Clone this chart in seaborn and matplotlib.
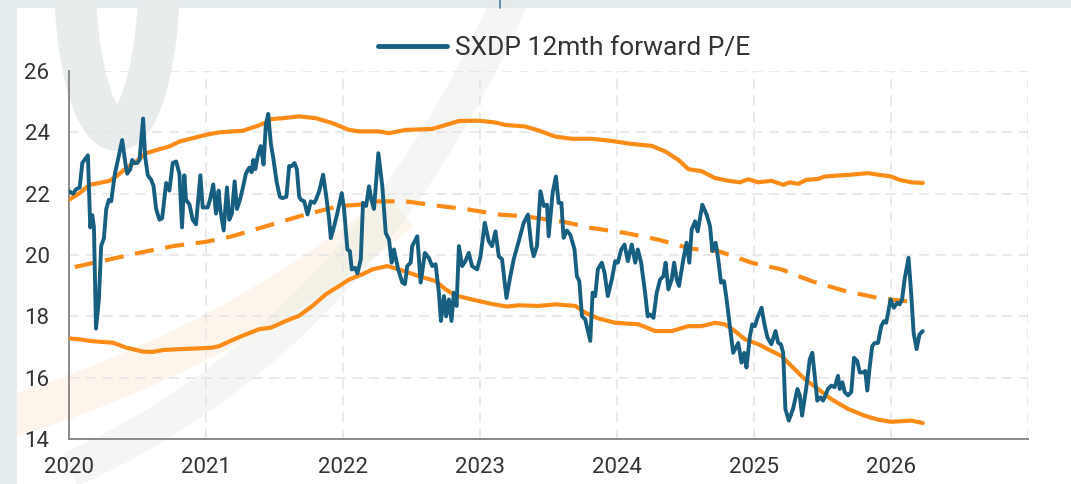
import numpy as np
import pandas as pd
import matplotlib
matplotlib.use("Agg")
import matplotlib.pyplot as plt
import seaborn as sns
from matplotlib.patches import Rectangle, PathPatch, Ellipse
from matplotlib.path import Path
from matplotlib.lines import Line2D

# ---- data (decimal years) ----
pe_dates = [
    2020.000, 2020.029, 2020.053, 2020.078, 2020.097, 2020.138, 2020.155, 2020.170, 2020.182, 2020.197,
    2020.218, 2020.235, 2020.255, 2020.272, 2020.291, 2020.308, 2020.333, 2020.357, 2020.388, 2020.413,
    2020.425, 2020.447, 2020.461, 2020.478, 2020.498, 2020.515, 2020.527, 2020.541, 2020.556, 2020.575,
    2020.600, 2020.617, 2020.636, 2020.660, 2020.680, 2020.709, 2020.733, 2020.757, 2020.782, 2020.806,
    2020.825, 2020.842, 2020.854, 2020.879, 2020.903, 2020.927, 2020.959, 2020.976, 2021.012, 2021.029,
    2021.053, 2021.073, 2021.092, 2021.104, 2021.129, 2021.153, 2021.170, 2021.189, 2021.209, 2021.226,
    2021.248, 2021.267, 2021.291, 2021.316, 2021.333, 2021.345, 2021.360, 2021.376, 2021.388, 2021.400,
    2021.420, 2021.437, 2021.454, 2021.473, 2021.493, 2021.515, 2021.539, 2021.558, 2021.587, 2021.607,
    2021.626, 2021.646, 2021.663, 2021.680, 2021.693, 2021.717, 2021.741, 2021.765, 2021.790, 2021.802,
    2021.826, 2021.855, 2021.875, 2021.899, 2021.911, 2021.935, 2021.959, 2021.991, 2022.008, 2022.032,
    2022.050, 2022.064, 2022.088, 2022.105, 2022.130, 2022.146, 2022.169, 2022.190, 2022.207, 2022.226,
    2022.258, 2022.287, 2022.312, 2022.336, 2022.355, 2022.372, 2022.403, 2022.433, 2022.452, 2022.469,
    2022.494, 2022.505, 2022.542, 2022.567, 2022.598, 2022.627, 2022.651, 2022.676, 2022.700, 2022.715,
    2022.737, 2022.753, 2022.773, 2022.792, 2022.809, 2022.829, 2022.846, 2022.870, 2022.894, 2022.918,
    2022.942, 2022.979, 2023.004, 2023.035, 2023.064, 2023.088, 2023.113, 2023.137, 2023.161, 2023.193,
    2023.222, 2023.246, 2023.283, 2023.319, 2023.350, 2023.375, 2023.392, 2023.416, 2023.441, 2023.465,
    2023.489, 2023.501, 2023.530, 2023.554, 2023.574, 2023.594, 2023.610, 2023.634, 2023.659, 2023.690,
    2023.707, 2023.725, 2023.744, 2023.768, 2023.805, 2023.822, 2023.841, 2023.860, 2023.889, 2023.909,
    2023.933, 2023.962, 2023.987, 2024.006, 2024.031, 2024.055, 2024.079, 2024.108, 2024.133, 2024.152,
    2024.176, 2024.205, 2024.224, 2024.242, 2024.266, 2024.290, 2024.315, 2024.339, 2024.355, 2024.375,
    2024.399, 2024.417, 2024.436, 2024.453, 2024.484, 2024.508, 2024.528, 2024.545, 2024.570, 2024.589,
    2024.623, 2024.654, 2024.679, 2024.696, 2024.720, 2024.739, 2024.759, 2024.781, 2024.800, 2024.824,
    2024.848, 2024.885, 2024.909, 2024.929, 2024.945, 2024.970, 2024.987, 2025.007, 2025.025, 2025.055,
    2025.074, 2025.098, 2025.127, 2025.157, 2025.176, 2025.196, 2025.213, 2025.229, 2025.254, 2025.285,
    2025.317, 2025.334, 2025.351, 2025.382, 2025.407, 2025.426, 2025.443, 2025.462, 2025.487, 2025.504,
    2025.521, 2025.540, 2025.564, 2025.589, 2025.613, 2025.626, 2025.645, 2025.662, 2025.686, 2025.710,
    2025.730, 2025.754, 2025.772, 2025.796, 2025.812, 2025.827, 2025.844, 2025.863, 2025.881, 2025.905,
    2025.929, 2025.948, 2025.965, 2025.997, 2026.021, 2026.045, 2026.063, 2026.081, 2026.099, 2026.128,
    2026.147, 2026.165, 2026.187, 2026.208, 2026.232,
]
pe_values = [
    22.08, 22.00, 22.15, 22.20, 23.00, 23.25, 20.90, 21.30, 20.90, 17.60,
    18.55, 20.30, 20.55, 21.50, 21.80, 21.75, 22.60, 23.10, 23.75, 22.95,
    22.65, 22.80, 23.10, 23.00, 23.00, 23.10, 23.75, 24.45, 23.20, 22.60,
    22.45, 22.25, 21.50, 21.15, 21.20, 22.35, 22.10, 23.00, 23.05, 22.65,
    20.90, 22.60, 21.80, 21.65, 21.15, 21.00, 22.60, 21.55, 21.55, 21.80,
    22.30, 21.35, 22.10, 21.50, 20.80, 22.20, 21.15, 21.35, 22.40, 21.50,
    21.80, 22.15, 22.65, 22.85, 22.70, 23.10, 22.80, 23.20, 23.40, 23.55,
    22.95, 24.25, 24.60, 23.65, 23.10, 22.40, 21.90, 21.85, 21.90, 22.90,
    22.90, 23.00, 22.80, 21.90, 21.80, 21.75, 21.32, 21.75, 21.70, 21.80,
    22.08, 22.62, 22.00, 21.15, 20.55, 20.93, 21.37, 22.02, 21.48, 20.18,
    20.13, 19.53, 19.58, 19.40, 19.86, 21.70, 21.60, 22.24, 21.80, 21.50,
    23.32, 22.24, 20.72, 20.50, 19.75, 20.18, 19.53, 19.10, 19.05, 19.64,
    19.75, 20.29, 20.61, 19.10, 20.07, 19.90, 19.64, 19.70, 18.77, 17.85,
    18.66, 18.00, 18.55, 17.85, 18.77, 18.34, 20.29, 19.64, 19.80, 20.07,
    19.64, 19.53, 19.96, 21.05, 20.45, 20.29, 20.77, 19.96, 19.86, 18.60,
    19.32, 19.86, 20.45, 21.05, 21.32, 20.29, 19.96, 20.29, 22.08, 21.60,
    21.64, 20.61, 22.02, 22.56, 21.70, 21.70, 20.56, 20.80, 20.66, 20.18,
    19.31, 19.15, 18.01, 17.90, 17.20, 18.77, 18.66, 19.53, 19.75, 19.42,
    18.66, 19.20, 19.80, 19.75, 20.18, 20.34, 19.80, 20.34, 19.75, 20.18,
    19.75, 18.77, 18.00, 18.06, 17.95, 18.77, 19.20, 19.31, 19.75, 18.88,
    19.20, 19.75, 19.20, 18.99, 19.86, 20.40, 19.75, 20.83, 21.10, 20.77,
    21.64, 21.32, 20.94, 20.13, 20.40, 19.86, 19.10, 19.15, 18.55, 17.68,
    16.81, 17.13, 16.49, 16.81, 16.33, 17.35, 17.74, 17.68, 17.95, 18.28,
    17.79, 17.31, 17.09, 17.52, 17.14, 17.09, 16.81, 14.98, 14.60, 14.98,
    15.63, 15.42, 14.76, 15.69, 16.60, 16.81, 16.06, 15.25, 15.36, 15.25,
    15.42, 15.63, 15.74, 15.69, 16.06, 15.63, 15.85, 15.53, 15.42, 15.53,
    16.65, 16.54, 16.17, 16.17, 16.22, 15.58, 16.33, 17.03, 17.13, 17.13,
    17.68, 17.84, 17.79, 18.55, 18.28, 18.44, 18.39, 18.55, 19.20, 19.91,
    18.77, 17.47, 16.93, 17.41, 17.52,
]

upper_dates = [
    2020.000, 2020.078, 2020.150, 2020.223, 2020.296, 2020.345, 2020.417, 2020.490, 2020.563, 2020.660,
    2020.733, 2020.806, 2020.903, 2021.000, 2021.097, 2021.194, 2021.267, 2021.364, 2021.437, 2021.473,
    2021.558, 2021.680, 2021.802, 2021.923, 2022.044, 2022.117, 2022.263, 2022.336, 2022.457, 2022.651,
    2022.749, 2022.846, 2022.991, 2023.113, 2023.186, 2023.331, 2023.428, 2023.550, 2023.671, 2023.816,
    2023.962, 2024.108, 2024.253, 2024.351, 2024.448, 2024.521, 2024.618, 2024.715, 2024.812, 2024.897,
    2024.958, 2025.031, 2025.127, 2025.213, 2025.261, 2025.322, 2025.382, 2025.468, 2025.516, 2025.613,
    2025.710, 2025.832, 2025.905, 2026.001, 2026.063, 2026.147, 2026.232,
]
upper_values = [
    21.80, 22.02, 22.29, 22.35, 22.42, 22.56, 22.83, 23.05, 23.32, 23.45,
    23.54, 23.70, 23.81, 23.92, 24.00, 24.03, 24.05, 24.19, 24.32, 24.43,
    24.46, 24.52, 24.46, 24.30, 24.08, 24.03, 24.03, 23.97, 24.08, 24.11,
    24.24, 24.37, 24.38, 24.32, 24.24, 24.19, 24.06, 23.86, 23.79, 23.79,
    23.72, 23.62, 23.56, 23.38, 23.10, 22.80, 22.73, 22.51, 22.42, 22.37,
    22.47, 22.37, 22.42, 22.29, 22.37, 22.32, 22.45, 22.48, 22.56, 22.59,
    22.62, 22.67, 22.62, 22.56, 22.45, 22.37, 22.35,
]

lower_dates = [
    2020.000, 2020.078, 2020.150, 2020.223, 2020.320, 2020.417, 2020.539, 2020.612, 2020.684, 2020.806,
    2020.927, 2021.049, 2021.097, 2021.194, 2021.291, 2021.388, 2021.473, 2021.583, 2021.680, 2021.777,
    2021.875, 2021.972, 2022.044, 2022.141, 2022.214, 2022.323, 2022.409, 2022.554, 2022.676, 2022.749,
    2022.822, 2022.942, 2023.088, 2023.197, 2023.283, 2023.428, 2023.550, 2023.696, 2023.768, 2023.865,
    2023.987, 2024.157, 2024.278, 2024.399, 2024.521, 2024.618, 2024.715, 2024.788, 2024.861, 2024.934,
    2025.031, 2025.127, 2025.200, 2025.273, 2025.371, 2025.468, 2025.564, 2025.686, 2025.808, 2025.905,
    2026.001, 2026.147, 2026.232,
]
lower_values = [
    17.28, 17.25, 17.20, 17.17, 17.14, 16.98, 16.85, 16.84, 16.90, 16.93,
    16.95, 16.98, 17.03, 17.23, 17.41, 17.58, 17.63, 17.85, 18.02, 18.34,
    18.72, 18.99, 19.20, 19.37, 19.53, 19.64, 19.53, 19.31, 19.15, 18.88,
    18.68, 18.55, 18.40, 18.32, 18.36, 18.34, 18.39, 18.34, 18.12, 17.93,
    17.79, 17.74, 17.52, 17.52, 17.68, 17.68, 17.79, 17.74, 17.52, 17.25,
    17.09, 16.87, 16.71, 16.38, 15.95, 15.63, 15.30, 14.98, 14.76, 14.63,
    14.56, 14.60, 14.52,
]

avg_dates = [
    2020.042, 2020.220, 2020.510, 2020.760, 2021.000, 2021.190, 2021.440, 2021.680, 2021.972, 2022.117,
    2022.214, 2022.457, 2022.700, 2022.894, 2023.137, 2023.331, 2023.623, 2023.816, 2024.060, 2024.302,
    2024.545, 2024.739, 2024.982, 2025.200, 2025.419, 2025.662, 2025.905, 2026.172,
]
avg_values = [
    19.61, 19.78, 20.07, 20.29, 20.43, 20.61, 20.94, 21.26, 21.60, 21.64,
    21.75, 21.75, 21.60, 21.50, 21.32, 21.26, 21.07, 20.88, 20.72, 20.50,
    20.20, 20.13, 19.75, 19.53, 19.15, 18.83, 18.60, 18.46,
]

year_ticks = [2020, 2021, 2022, 2023, 2024, 2025, 2026, 2027]
year_labels = ["2020", "2021", "2022", "2023", "2024", "2025", "2026", ""]
y_ticks = [14, 16, 18, 20, 22, 24, 26]

BLUE = "#175f81"
ORANGE = "#fd8b18"
W, H = 1071, 484

sns.set_style("white")
plt.rcParams["font.family"] = ["Roboto", "DejaVu Sans"]

fig = plt.figure(figsize=(W / 100, H / 100), dpi=100)
fig.patch.set_facecolor("#e5edf0")

# white panel + faint watermark shapes behind the chart
fig.patches.append(Rectangle((17 / W, 0), 1, 1 - 8 / H, transform=fig.transFigure,
                             facecolor="white", edgecolor="none", zorder=0))


def fig_curve(pts, color, lw, alpha):
    verts = [(x / W, 1 - y / H) for x, y in pts]
    codes = [Path.MOVETO] + [Path.CURVE3] * (len(verts) - 1)
    fig.patches.append(PathPatch(Path(verts, codes), transform=fig.transFigure, facecolor="none",
                                 edgecolor=color, lw=lw, alpha=alpha, zorder=0.2,
                                 capstyle="butt"))


fig_curve([(0, 420), (230, 350), (400, 210)], "#fbe3c8", 30, 0.35)
fig_curve([(70, 470), (360, 340), (510, 0)], "#e3e8df", 26, 0.35)
fig.patches.append(Ellipse((117 / W, 1 - (-30) / H), 85 / W, 320 / H, transform=fig.transFigure,
                           facecolor="none", edgecolor="#e9ecec", lw=30, zorder=0.3))
fig.patches.append(Rectangle((0, 0), 17 / W, 1 - 8 / H, transform=fig.transFigure,
                             facecolor="#e5edf0", edgecolor="none", zorder=0.4))
# small cut-off mark in the top strip
fig.lines.append(Line2D([500 / W, 500 / W], [1, 1 - 8 / H], transform=fig.transFigure,
                        color="#4a7f9c", lw=1.2, zorder=0.5))

ax = fig.add_axes([69 / W, 1 - 439 / H, (1028 - 69) / W, (439 - 71) / H])
ax.set_facecolor("none")
ax.set_zorder(1)

pe_df = pd.DataFrame({"date": pe_dates, "pe": pe_values})
upper_df = pd.DataFrame({"date": upper_dates, "band": upper_values})
lower_df = pd.DataFrame({"date": lower_dates, "band": lower_values})
avg_df = pd.DataFrame({"date": avg_dates, "avg": avg_values})

sns.lineplot(data=upper_df, x="date", y="band", color=ORANGE, lw=3.0, ax=ax, zorder=3)
sns.lineplot(data=lower_df, x="date", y="band", color=ORANGE, lw=3.0, ax=ax, zorder=3)
sns.lineplot(data=avg_df, x="date", y="avg", color=ORANGE, lw=3.0, ax=ax, zorder=3)
ax.lines[-1].set_dashes((4.6, 2.8))
sns.lineplot(data=pe_df, x="date", y="pe", color=BLUE, lw=2.8, ax=ax, zorder=4,
             label="SXDP 12mth forward P/E")

ax.set_xlim(2020, 2027)
ax.set_ylim(14, 26)
ax.set_xticks(year_ticks)
ax.set_xticklabels(year_labels)
ax.set_yticks(y_ticks)
ax.set_xlabel("")
ax.set_ylabel("")

ax.grid(True, color="#e6e6e6", lw=1.2, linestyle=(0, (6, 4)))
ax.set_axisbelow(True)
for side in ["top", "right"]:
    ax.spines[side].set_visible(False)
for side in ["left", "bottom"]:
    ax.spines[side].set_color("#8a8a8a")
    ax.spines[side].set_linewidth(1.4)
ax.tick_params(axis="both", which="major", direction="out", length=4, width=1.2,
               color="#8a8a8a", labelsize=16, labelcolor="#333333")
ax.tick_params(axis="y", pad=10)
ax.tick_params(axis="x", pad=9)

ax.get_legend().remove()
handles, labels = ax.get_legend_handles_labels()
fig.legend(handles, labels, loc="center", bbox_to_anchor=(564 / W, 1 - 48 / H), frameon=False,
           fontsize=19, handlelength=2.6, handletextpad=0.3, labelcolor="#333333")
for line in fig.legends[0].get_lines():
    line.set_linewidth(3.5)

fig.savefig("out.png", dpi=100, facecolor=fig.get_facecolor())
